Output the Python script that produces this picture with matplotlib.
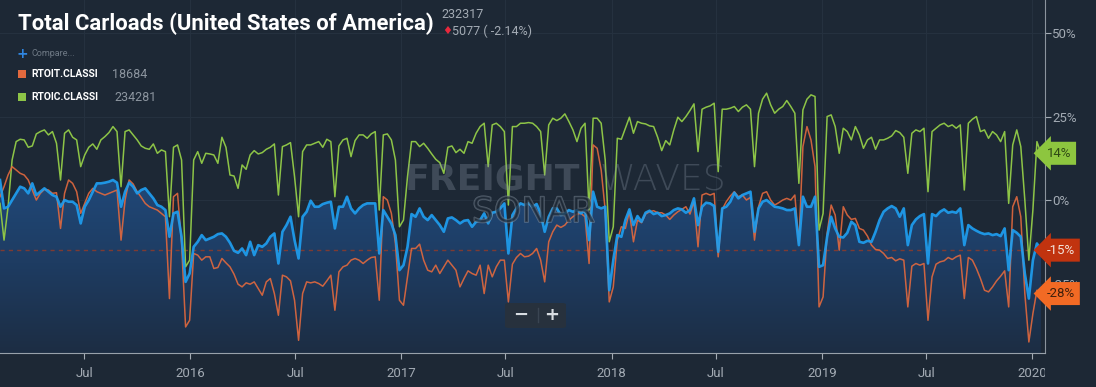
import numpy as np
import pandas as pd
import matplotlib
matplotlib.use('Agg')
import matplotlib.pyplot as plt
import matplotlib.dates as mdates
from matplotlib.colors import LinearSegmentedColormap
from matplotlib.patches import Rectangle, FancyBboxPatch
from matplotlib.transforms import blended_transform_factory, Bbox
import matplotlib.patheffects as pe

# weekly YoY change (%), Feb 2015 .. Jan 2020
start_date = '2015-02-05'

total_carloads = [
    6.0, -2.5, -2.0, 0.0, 2.0, 4.0, 3.5, 2.0, 5.0, 1.5,
    2.5, 3.5, 2.5, 1.5, 1.0, -2.0, 0.0, -0.5, -0.5, -1.5,
    -7.0, -2.0, 0.0, 2.5, 5.0, 5.0, 5.2, 5.5, 6.0, 5.2,
    -2.0, 2.5, 5.2, 4.0, 2.0, 3.0, 3.5, 2.0, 0.5, -1.5,
    -2.0, -3.0, -11.0, -4.0, -3.5, -11.0, -24.5, -22.0, -14.0, -12.5,
    -10.5, -12.0, -11.5, -11.0, -10.2, -10.0, -11.0, -12.8, -15.2, -15.8,
    -14.5, -16.5, -12.5, -16.5, -13.5, -14.0, -13.0, -11.0, -10.0, -19.0,
    -9.5, -7.5, -5.0, -12.0, -17.5, -5.0, -3.5, -0.2, -2.0, -2.0,
    -1.2, -0.8, -0.5, -8.5, -2.0, -2.0, 1.0, -2.5, -4.0, -2.5,
    -1.5, -1.0, -1.0, -1.0, -16.0, -3.0, -5.0, -7.0, -10.5, -21.0,
    -19.5, -14.0, -4.2, -5.0, -2.5, -5.0, -6.0, -4.5, -6.0, -7.5,
    -9.5, -5.5, -5.2, -6.0, -7.0, -6.2, -6.0, -8.0, -6.5, -6.0,
    -4.0, -7.0, -3.8, -3.5, -2.5, -1.0, -16.0, -4.5, -2.5, -1.0,
    -1.5, -1.0, -2.0, -1.2, -4.0, -9.5, -5.0, -2.5, -2.5, -4.5,
    -4.0, -3.0, -3.5, -3.0, -4.0, -3.0, -12.0, 2.5, -2.0, -2.5,
    -2.0, -27.0, -18.0, -10.5, -11.0, -6.0, -2.8, -7.5, -4.8, -6.5,
    -3.8, -3.2, -4.2, -3.8, -4.8, -4.5, -4.0, -3.0, -2.5, -2.8,
    -3.8, -3.0, 0.5, -7.5, -2.0, -0.8, -1.0, -1.8, -15.5, -2.5,
    -2.0, -0.5, 2.2, 0.5, 1.5, 2.0, 2.5, -9.5, -2.5, -0.5,
    0.0, -1.0, -2.0, -2.2, -2.5, -3.0, -3.0, -2.5, -13.5, 1.0,
    -2.0, -2.0, 1.0, -20.0, -19.5, -11.0, -5.0, -8.5, -11.0, -11.2,
    -9.8, -6.5, -7.5, -12.5, -12.8, -12.2, -12.5, -9.5, -6.0, -3.5,
    -2.5, -1.8, -2.5, -5.0, -2.5, -13.5, -7.5, -5.8, -4.8, -4.2,
    -19.0, -4.2, -4.8, -3.5, -2.8, -3.8, -3.5, -3.8, -2.5, -13.5,
    -7.5, -8.5, -9.2, -9.8, -10.2, -10.0, -10.5, -10.2, -10.8, -8.5,
    -21.0, -9.0, -9.8, -11.0, -22.0, -29.5, -18.0, -13.0, -15.0,
]

rtoit = [
    1.0, 4.0, 7.5, 10.0, 9.0, 8.0, 7.5, 6.0, 3.0, 0.0,
    2.0, 3.2, 3.0, 2.0, 2.2, -8.5, 2.0, 6.0, 5.0, 2.5,
    -4.0, -1.0, 2.0, 3.5, 2.5, 2.0, 1.5, 2.0, 2.5, 3.0,
    -12.0, 0.0, 6.0, 4.8, 2.5, 0.8, -1.0, -2.0, -2.5, -3.0,
    -4.0, -5.0, -29.5, 1.0, 2.0, -13.0, -38.0, -36.0, -16.0, -16.5,
    -18.0, -17.0, -17.0, -20.5, -20.2, -17.5, -18.8, -20.0, -22.2, -25.2,
    -26.0, -24.8, -25.2, -24.5, -26.5, -28.5, -24.5, -23.5, -28.0, -34.5,
    -22.5, -23.0, -24.2, -30.0, -42.0, -28.0, -24.5, -24.8, -24.5, -25.0,
    -25.8, -24.2, -22.5, -33.0, -21.5, -20.0, -19.5, -18.0, -17.5, -18.0,
    -19.0, -18.0, -17.2, -17.0, -30.0, 1.0, 0.0, -4.0, -13.0, -30.0,
    -31.5, -23.0, -14.5, -14.5, -13.2, -18.0, -21.0, -21.5, -19.5, -22.0,
    -20.0, -18.0, -19.5, -21.0, -26.0, -23.5, -21.2, -22.0, -22.5, -19.5,
    -28.0, -19.5, -23.0, -20.0, -18.0, -18.0, -30.5, -19.2, -17.2, -16.0,
    -17.0, -16.8, -16.0, -14.5, -18.0, -24.5, -12.5, -9.5, -7.5, -8.2,
    -7.5, -6.0, -5.0, -4.2, -4.0, -5.0, -19.0, 16.5, 15.5, 9.0,
    -3.0, -30.5, -26.0, -12.0, -8.0, -8.5, -3.5, -12.5, -6.0, -6.8,
    -4.2, -3.5, -3.2, -3.8, -3.8, -4.5, -5.8, -4.5, -3.5, -2.8,
    -2.0, -4.2, -0.5, -14.0, 1.5, 2.0, 1.5, 2.0, -17.0, -2.8,
    -0.5, 1.2, 2.5, 1.0, 1.5, 0.0, 0.8, -12.0, -2.0, 2.0,
    2.5, 0.0, -1.5, -0.8, 0.0, 0.5, 0.0, 1.5, -13.0, 16.0,
    22.0, 18.0, 10.0, -32.0, -29.0, -10.0, -1.5, -4.5, -15.0, -2.0,
    -4.5, -5.8, -5.5, -8.5, -9.0, -10.8, -13.5, -14.8, -15.0, -16.0,
    -17.5, -17.2, -18.2, -17.6, -18.0, -32.0, -19.8, -19.0, -19.5, -19.0,
    -36.0, -23.0, -19.2, -18.5, -18.2, -17.2, -17.8, -17.0, -16.5, -29.5,
    -17.2, -18.0, -20.5, -23.5, -27.0, -27.5, -26.0, -24.2, -22.8, -21.2,
    -32.0, -2.0, 1.0, -5.0, -28.0, -42.5, -34.0, -27.0, -28.0,
]

rtoic = [
    -1.0, -12.0, -2.0, 12.0, 17.5, 18.2, 18.0, 15.8, 16.2, 19.8,
    20.5, 21.0, 19.5, 20.5, 17.0, 6.0, 20.0, 21.0, 18.8, 18.0,
    10.0, 13.5, 15.8, 16.8, 15.2, 18.0, 19.0, 20.2, 22.0, 20.5,
    4.0, 20.5, 21.0, 19.5, 18.0, 16.2, 15.5, 15.2, 16.8, 14.0,
    15.0, 14.5, -5.0, 15.8, 16.5, 12.0, -20.0, -18.0, 12.0, 14.5,
    11.0, 14.0, 13.8, 13.5, 11.0, 18.8, 15.8, 7.5, 7.2, 3.5,
    10.5, 9.2, 13.5, 14.8, 13.8, 14.2, 15.2, 15.8, 16.8, 1.5,
    16.0, 16.5, 17.2, 7.0, -5.0, 14.5, 16.5, 16.5, 17.0, 17.5,
    15.8, 18.2, 17.5, 1.0, 16.2, 18.0, 18.5, 13.0, 17.8, 19.5,
    19.5, 18.5, 19.8, 20.5, -3.0, 19.5, 19.8, 18.0, 12.0, -8.0,
    -6.0, 7.0, 17.5, 17.5, 16.0, 17.0, 15.5, 13.8, 12.2, 11.2,
    8.0, 15.8, 16.2, 14.2, 15.2, 14.0, 17.5, 17.0, 20.0, 22.0,
    23.0, 10.0, 22.5, 23.0, 22.0, 20.5, -1.5, 22.0, 22.0, 23.0,
    23.0, 23.2, 23.0, 22.0, 20.5, 7.5, 22.5, 24.5, 23.8, 24.5,
    25.8, 23.5, 21.0, 17.5, 21.5, 23.0, -3.0, 24.5, 24.5, 23.0,
    12.0, -12.5, -8.0, 18.5, 18.2, 21.5, 24.8, 20.0, 23.5, 23.0,
    22.8, 22.2, 22.0, 18.8, 14.8, 17.8, 16.5, 21.0, 24.8, 23.5,
    25.0, 26.8, 28.8, 14.5, 27.2, 27.8, 28.2, 29.0, 8.5, 27.2,
    27.2, 27.5, 28.0, 26.5, 27.8, 28.5, 27.2, 10.0, 26.0, 30.2,
    32.0, 28.5, 26.0, 27.2, 28.0, 29.8, 28.0, 26.0, 5.0, 27.0,
    30.2, 31.5, 31.0, -9.0, -4.0, 25.0, 25.5, 22.0, 14.0, 21.5,
    20.5, 18.0, 22.0, 19.5, 15.5, 18.0, 18.8, 15.2, 18.0, 18.0,
    18.5, 19.2, 20.8, 20.2, 18.8, 8.0, 20.0, 21.0, 20.5, 21.5,
    2.5, 20.5, 21.5, 22.5, 23.0, 22.0, 22.5, 21.5, 22.5, 3.0,
    23.0, 24.2, 25.0, 20.5, 21.0, 18.5, 20.5, 19.5, 17.5, 20.5,
    -1.0, 16.5, 21.0, 16.0, 0.0, -18.0, -3.0, 17.5, 14.0,
]

tick_dates = ['2015-07-01', '2016-01-01', '2016-07-01', '2017-01-01', '2017-07-01',
              '2018-01-01', '2018-07-01', '2019-01-01', '2019-07-01', '2020-01-01']
tick_labels = ['Jul', '2016', 'Jul', '2017', 'Jul', '2018', 'Jul', '2019', 'Jul', '2020']
y_ticks = [-25, 0, 25, 50]

BG = '#1d2835'
BLUE = '#1f9ef0'
ORANGE = '#e2693e'
GREEN = '#8dc447'
GREY = '#a3abb4'
W, H = 1096, 387

dates = pd.date_range(start_date, periods=len(total_carloads), freq='7D')
x = mdates.date2num(dates)
blue = np.array(total_carloads)
orange = np.array(rtoit)
green = np.array(rtoic)

ylo, yhi = -45.8, 59.9
xlo = mdates.date2num(pd.Timestamp('2015-02-05'))
xhi = mdates.date2num(pd.Timestamp('2020-01-23'))

fig = plt.figure(figsize=(W / 100, H / 100), dpi=100, facecolor=BG)
ax = fig.add_axes([0, 34 / H, 1045 / W, 353 / H])
ax.set_facecolor(BG)

# grid
for d in tick_dates:
    ax.axvline(mdates.date2num(pd.Timestamp(d)), color='#25313f', lw=0.8, zorder=0)
for v in y_ticks:
    ax.axhline(v, color='#25313f', lw=0.8, zorder=0)

# gradient area under the main series
fill = ax.fill_between(x, blue, ylo, facecolor='none', edgecolor='none')
grad = np.linspace(0, 1, 256).reshape(-1, 1)
cmap = LinearSegmentedColormap.from_list('area', ['#1c2d43', '#1e3c62', '#20497a'])
im = ax.imshow(grad, extent=[xlo, xhi, ylo, 8], origin='lower', aspect='auto',
               cmap=cmap, zorder=1, interpolation='bilinear')
im.set_clip_path(fill.get_paths()[0], transform=ax.transData)

# watermark
wm = dict(color='#8794a2', alpha=0.32, zorder=2)
fig.text(405 / W, 1 - 180 / H, 'FREIGHT', fontsize=26, fontweight='heavy',
         family='DejaVu Sans', va='center', ha='left', **wm)
fig.text(600 / W, 1 - 180 / H, 'WAVES', fontsize=26, fontweight='light',
         family='DejaVu Sans', va='center', ha='left', **wm)
fig.text(472 / W, 1 - 212 / H, 'SONAR', fontsize=25, family='DejaVu Sans',
         va='center', ha='left', color=BG, alpha=0.5, zorder=2,
         path_effects=[pe.withStroke(linewidth=1.2, foreground='#8794a2')])

# dashed reference at last value
ax.axhline(blue[-1], color='#7d3b33', lw=1, ls=(0, (3, 3)), zorder=2)

ax.plot(x, green, color=GREEN, lw=1.1, zorder=3)
ax.plot(x, orange, color=ORANGE, lw=1.1, zorder=4, alpha=0.9)
ax.plot(x, blue, color=BLUE, lw=1.9, zorder=5, alpha=0.92)

ax.set_xlim(xlo, xhi)
ax.set_ylim(ylo, yhi)

for s in ['left', 'top']:
    ax.spines[s].set_visible(False)
ax.spines['right'].set_color('#8b949d')
ax.spines['bottom'].set_color('#98a1aa')

ax.yaxis.tick_right()
ax.set_yticks(y_ticks)
ax.set_yticklabels([f'{v}%' for v in y_ticks])
ax.set_xticks([mdates.date2num(pd.Timestamp(d)) for d in tick_dates])
ax.set_xticklabels(tick_labels)
ax.tick_params(axis='y', colors=GREY, length=4, pad=1, labelsize=9.5)
ax.tick_params(axis='x', colors=GREY, length=4, pad=6, labelsize=9.5)
for lbl in ax.get_xticklabels() + ax.get_yticklabels():
    lbl.set_family('Roboto')
    lbl.set_color(GREY)

# last-value badges
tr = blended_transform_factory(ax.transAxes, ax.transData)
badges = [(green[-1], '#8dc63f', '#2f4a14'),
          (blue[-1], '#c1330f', '#f3e3dc'),
          (orange[-1], '#f26a24', '#40200c')]
for val, bg, fg in badges:
    ax.text(1.0015, val, f'{val:.0f}%', transform=tr, ha='left', va='center',
            fontsize=9.5, color=fg, family='Roboto', zorder=10, clip_on=False,
            bbox=dict(boxstyle='larrow,pad=0.38', fc=bg, ec='none'))

# title and header
fig.text(18 / W, 1 - 30 / H, 'Total Carloads (United States of America)',
         fontsize=15.9, fontweight='bold', color='white', ha='left', va='baseline',
         family='Roboto')
fig.text(441 / W, 1 - 15 / H, '232317', fontsize=9, color=GREY, va='center',
         family='Roboto')
fig.text(442 / W, 1 - 31 / H, '\u2666', fontsize=8, color='#e8283c', va='center',
         family='DejaVu Sans')
fig.text(452 / W, 1 - 31 / H, '5077 ( -2.14%)', fontsize=9, color=GREY,
         va='center', family='Roboto')

# legend block
fig.text(17 / W, 1 - 54 / H, '+', fontsize=10, color='#2f86e0', va='center',
         fontweight='bold', family='DejaVu Sans')
fig.text(32 / W, 1 - 54 / H, 'Compare...', fontsize=6.5, color='#6f7a86',
         va='center', family='Roboto')
legend = [('RTOIT.CLASSI', '18684', ORANGE, 74, 112),
          ('RTOIC.CLASSI', '234281', GREEN, 97, 114)]
for name, val, col, ypx, vx in legend:
    fig.patches.append(Rectangle((18 / W, 1 - (ypx + 4) / H), 8 / W, 8 / H,
                                 transform=fig.transFigure, fc=col, ec='none'))
    fig.text(31 / W, 1 - ypx / H, name, fontsize=7.4, fontweight='bold',
             color='white', va='center', family='Roboto')
    fig.text(vx / W, 1 - ypx / H, val, fontsize=9, color='#8c959f',
             va='center', family='Roboto')

# zoom buttons
fig.patches.append(FancyBboxPatch((505 / W, 1 - 328 / H), 61 / W, 25 / H,
                                  boxstyle='round,pad=0,rounding_size=0.004',
                                  transform=fig.transFigure, fc='#27313d', ec='none',
                                  zorder=8))
fig.text(521 / W, 1 - 315 / H, '\u2212', fontsize=13, color='#d8dde2',
         fontweight='bold', ha='center', va='center', zorder=9)
fig.text(552 / W, 1 - 315 / H, '+', fontsize=13, color='#d8dde2',
         fontweight='bold', ha='center', va='center', zorder=9)
fig.lines.append(plt.Line2D([538 / W, 538 / W], [1 - 308 / H, 1 - 322 / H],
                            transform=fig.transFigure, color='#3a4552', lw=1, zorder=9))

# last x label is cut by the axis edge
fig.canvas.draw()
last = ax.xaxis.get_major_ticks()[-1].label1
last.set_clip_on(True)
last.set_clip_box(Bbox([[0, 0], [1045, H]]))

fig.savefig('out.png', dpi=100, facecolor=BG)
